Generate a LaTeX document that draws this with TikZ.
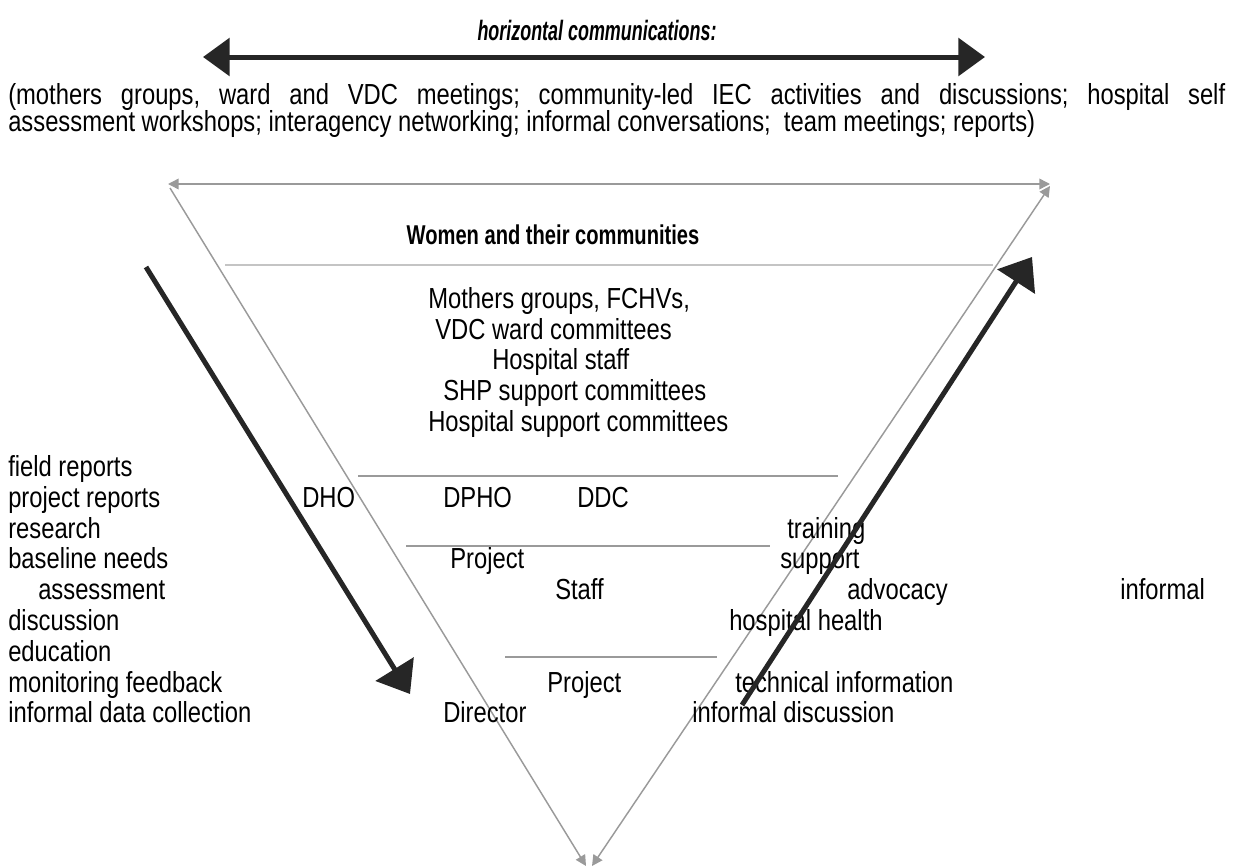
\documentclass[tikz,border=0pt]{standalone}
\usepackage{fontspec}
\setmainfont{Liberation Sans}[FakeStretch=0.82]
\newfontfamily\dgtitlefam{Liberation Sans}[FakeStretch=0.64]
\newfontfamily\dgwomenfam{Liberation Sans}[FakeStretch=0.74]
\usetikzlibrary{arrows.meta}
\newcommand\dgbody{\fontsize{21.75pt}{25pt}\selectfont}
\newcommand\dgwomen{\dgwomenfam\fontsize{20.4pt}{24pt}\selectfont\bfseries}
\newcommand\dgtitle{\dgtitlefam\fontsize{21pt}{25pt}\selectfont\bfseries\itshape}
\definecolor{dgdark}{HTML}{262626}
\definecolor{dggray}{HTML}{9A9A9A}
\definecolor{dglight}{HTML}{C4C4C4}
\tikzset{
  txt/.style={inner sep=0pt, anchor=base west, font=\dgbody},
  bigarrow/.style={draw=dgdark, line width=3.75pt, -{Triangle[length=22pt,width=33pt]}},
  bigdouble/.style={draw=dgdark, line width=3.75pt, {Triangle[length=20pt,width=28pt]}-{Triangle[length=20pt,width=28pt]}},
  tri/.style={draw=dggray, line width=1.1pt},
  gtip/.style={-{Triangle[length=8pt,width=8pt]}},
  gtips/.style={{Triangle[length=8pt,width=8pt]}-{Triangle[length=8pt,width=8pt]}},
  levelline/.style={draw=dggray, line width=2.2pt},
  topline/.style={draw=dglight, line width=1.4pt}
}
\begin{document}
\frenchspacing
\begin{tikzpicture}[x=0.75pt,y=-0.75pt]
\useasboundingbox (0,0) rectangle (1233,868);
% title and horizontal arrow
\node[inner sep=0pt, anchor=base, font=\dgtitle] (title) at (597,40) {horizontal communications:};
\coordinate (hl) at (203,57);
\coordinate (hr) at (985,57);
\draw[bigdouble] (hl) -- (hr);
\node[txt] (p1) at (8,104) {\frenchspacing\makebox[912.75pt][s]{(mothers groups, ward and VDC meetings; community-led IEC activities and discussions; hospital self}};
\node[txt] (p2) at (8,131) {\frenchspacing assessment workshops; interagency networking; informal conversations;\ \ team meetings; reports)};
% triangle
\coordinate (ta) at (168,184);
\coordinate (tb) at (1050,184);
\coordinate (la) at (170,188);
\coordinate (lb) at (586,866);
\coordinate (ra) at (592,866);
\coordinate (rb) at (1050,186);
\draw[tri,gtips] (ta) -- (tb);
\draw[tri,gtip] (la) -- (lb);
\draw[tri,gtips] (ra) -- (rb);
% level lines
\draw[topline] (225,265) -- (993,265);
\draw[levelline] (358,476) -- (838,476);
\draw[levelline] (406,546) -- (770,546);
\draw[levelline] (505,657) -- (717,657);
% centre texts
\node[inner sep=0pt, anchor=base, font=\dgwomen] (women) at (553,244) {Women and their communities};
\node[txt] (c1) at (428,308) {Mothers groups, FCHVs,};
\node[txt] (c2) at (435,339) {VDC ward committees};
\node[txt] (c3) at (492,369) {Hospital staff};
\node[txt] (c4) at (443,400) {SHP support committees};
\node[txt] (c5) at (428,431) {Hospital support committees};
\node[txt] (dho) at (302,507) {DHO};
\node[txt] (dpho) at (443,507) {DPHO};
\node[txt] (ddc) at (577,507) {DDC};
\node[txt] (proj1) at (450,568) {Project};
\node[txt] (staff) at (555,599) {Staff};
\node[txt] (proj2) at (547,692) {Project};
\node[txt] (dir) at (443,722) {Director};
% left list
\node[txt] (l0) at (8,476) {field reports};
\node[txt] (l1) at (8,507) {project reports};
\node[txt] (l2) at (8,538) {research};
\node[txt] (l3) at (8,568) {baseline needs};
\node[txt] (l4) at (38,599) {assessment};
\node[txt] (l5) at (8,630) {discussion};
\node[txt] (l6) at (8,661) {education};
\node[txt] (l7) at (8,692) {monitoring feedback};
\node[txt] (l8) at (8,722) {informal data collection};
% right list
\node[txt] (r2) at (787,538) {training};
\node[txt] (r3) at (780,568) {support};
\node[txt] (r4) at (847,599) {advocacy};
\node[txt] (r4b) at (1120,599) {informal};
\node[txt] (r5) at (729,630) {hospital health};
\node[txt] (r7) at (735,692) {technical information};
\node[txt] (r8) at (692,722) {informal discussion};
% vertical communication arrows
\coordinate (da) at (146,267);
\coordinate (db) at (410,694);
\coordinate (ua) at (742,705);
\coordinate (ub) at (1032,257);
\draw[bigarrow] (da) -- (db);
\draw[bigarrow] (ua) -- (ub);
\end{tikzpicture}
\end{document}
